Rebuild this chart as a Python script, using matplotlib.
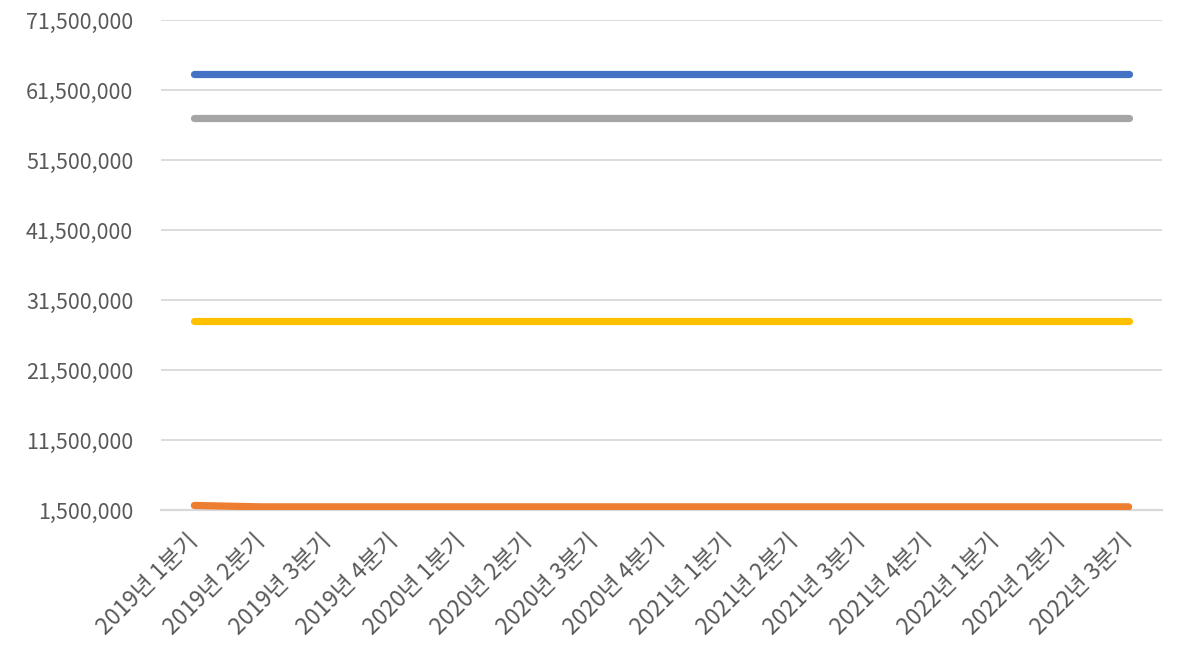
import matplotlib.pyplot as plt
from matplotlib.ticker import FuncFormatter

plt.rcParams['font.family'] = ['Noto Sans CJK KR', 'DejaVu Sans']

quarters = ['2019년 1분기', '2019년 2분기', '2019년 3분기', '2019년 4분기',
            '2020년 1분기', '2020년 2분기', '2020년 3분기', '2020년 4분기',
            '2021년 1분기', '2021년 2분기', '2021년 3분기', '2021년 4분기',
            '2022년 1분기', '2022년 2분기', '2022년 3분기']

blue = [63850000] * 15
gray = [57450000] * 15
yellow = [28450000] * 15
orange = [2150000] + [1950000] * 14

colors = ['#4472C4', '#A5A5A5', '#FFC000', '#ED7D31']
yticks = [1500000, 11500000, 21500000, 31500000, 41500000, 51500000, 61500000, 71500000]

fig = plt.figure(figsize=(11.81, 6.58), dpi=100)
ax = fig.add_axes([161 / 1181, 1 - 510 / 658, (1162 - 161) / 1181, 490 / 658])

x = range(len(quarters))
for data, c in zip([blue, gray, yellow, orange], colors):
    ax.plot(x, data, color=c, lw=5.2, solid_capstyle='round', zorder=3)

ax.set_xlim(-0.5, len(quarters) - 0.5)
ax.set_ylim(yticks[0], yticks[-1])
ax.set_yticks(yticks)
ax.yaxis.set_major_formatter(FuncFormatter(lambda v, p: f'{int(v):,}'))
ax.grid(axis='y', color='#d9d9d9', lw=1.3, zorder=0)
ax.set_xticks(list(x))
ax.set_xticklabels(quarters, rotation=45, ha='right', va='center', rotation_mode='anchor')

for s in ['top', 'right', 'left']:
    ax.spines[s].set_visible(False)
ax.spines['bottom'].set_color('#d9d9d9')
ax.spines['bottom'].set_linewidth(1.6)
ax.tick_params(length=0, colors='#595959')
ax.tick_params(axis='x', pad=20, labelsize=16.5)
ax.tick_params(axis='y', pad=20, labelsize=15.5)
for t in ax.get_xticklabels() + ax.get_yticklabels():
    t.set_fontweight('light')

fig.savefig('out.png', dpi=100)
